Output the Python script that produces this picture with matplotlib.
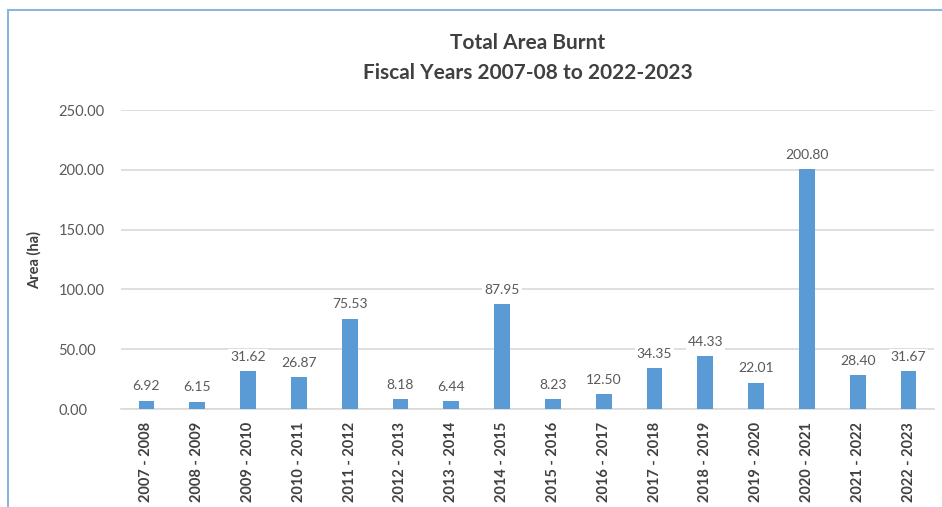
import matplotlib.pyplot as plt
from matplotlib.patches import Rectangle

# Fiscal-year burnt area values (ha)
years = ['2007 - 2008', '2008 - 2009', '2009 - 2010', '2010 - 2011', '2011 - 2012',
         '2012 - 2013', '2013 - 2014', '2014 - 2015', '2015 - 2016', '2016 - 2017',
         '2017 - 2018', '2018 - 2019', '2019 - 2020', '2020 - 2021', '2021 - 2022',
         '2022 - 2023']
area = [6.92, 6.15, 31.62, 26.87, 75.53, 8.18, 6.44, 87.95, 8.23, 12.50,
        34.35, 44.33, 22.01, 200.80, 28.40, 31.67]
y_ticks = [0, 50, 100, 150, 200, 250]

plt.rcParams['font.family'] = ['Lato', 'DejaVu Sans']

fig = plt.figure(figsize=(9.42, 5.07), dpi=100)
ax = fig.add_axes([0.1285, 0.193, 0.863, 0.590])

# chart frame
fig.patches.append(Rectangle((8 / 942, -0.1), 1.0, 1.1 - 10 / 507,
                             transform=fig.transFigure, fill=False,
                             edgecolor='#8fb4d9', linewidth=1.5))

x = range(len(years))
bars = ax.bar(x, area, width=0.31, color='#5b9bd5', zorder=3)
for xi, v in zip(x, area):
    ax.text(xi, v + 7, f'{v:.2f}', ha='center', va='bottom',
            fontsize=10, color='#595959', zorder=4,
            bbox=dict(facecolor='white', edgecolor='none', pad=1.5))

ax.set_xlim(-0.5, len(years) - 0.5)
ax.set_ylim(0, 250)
ax.set_yticks(y_ticks)
ax.set_yticklabels([f'{t:.2f}' for t in y_ticks], fontsize=10.5, color='#595959')
ax.set_xticks(list(x))
ax.set_xticklabels(years, rotation=90, fontsize=10.5, fontweight='bold', color='#404040')
ax.tick_params(axis='both', length=0)
ax.tick_params(axis='y', pad=45)
ax.tick_params(axis='x', pad=9)
for lbl in ax.get_yticklabels():
    lbl.set_horizontalalignment('left')

ax.grid(axis='y', color='#d9d9d9', linewidth=1.2, zorder=0)
for s in ['top', 'right', 'left']:
    ax.spines[s].set_visible(False)
ax.spines['bottom'].set_color('#d9d9d9')
ax.spines['bottom'].set_linewidth(1.2)

ax.set_ylabel('Area (ha)', fontsize=10.5, fontweight='bold', color='#404040', labelpad=12)

fig.text(0.56, 0.915, 'Total Area Burnt', ha='center', va='center',
         fontsize=15, fontweight='bold', color='#404040')
fig.text(0.56, 0.857, 'Fiscal Years 2007-08 to 2022-2023', ha='center', va='center',
         fontsize=15, fontweight='bold', color='#404040')

fig.savefig('out.png', dpi=100)
